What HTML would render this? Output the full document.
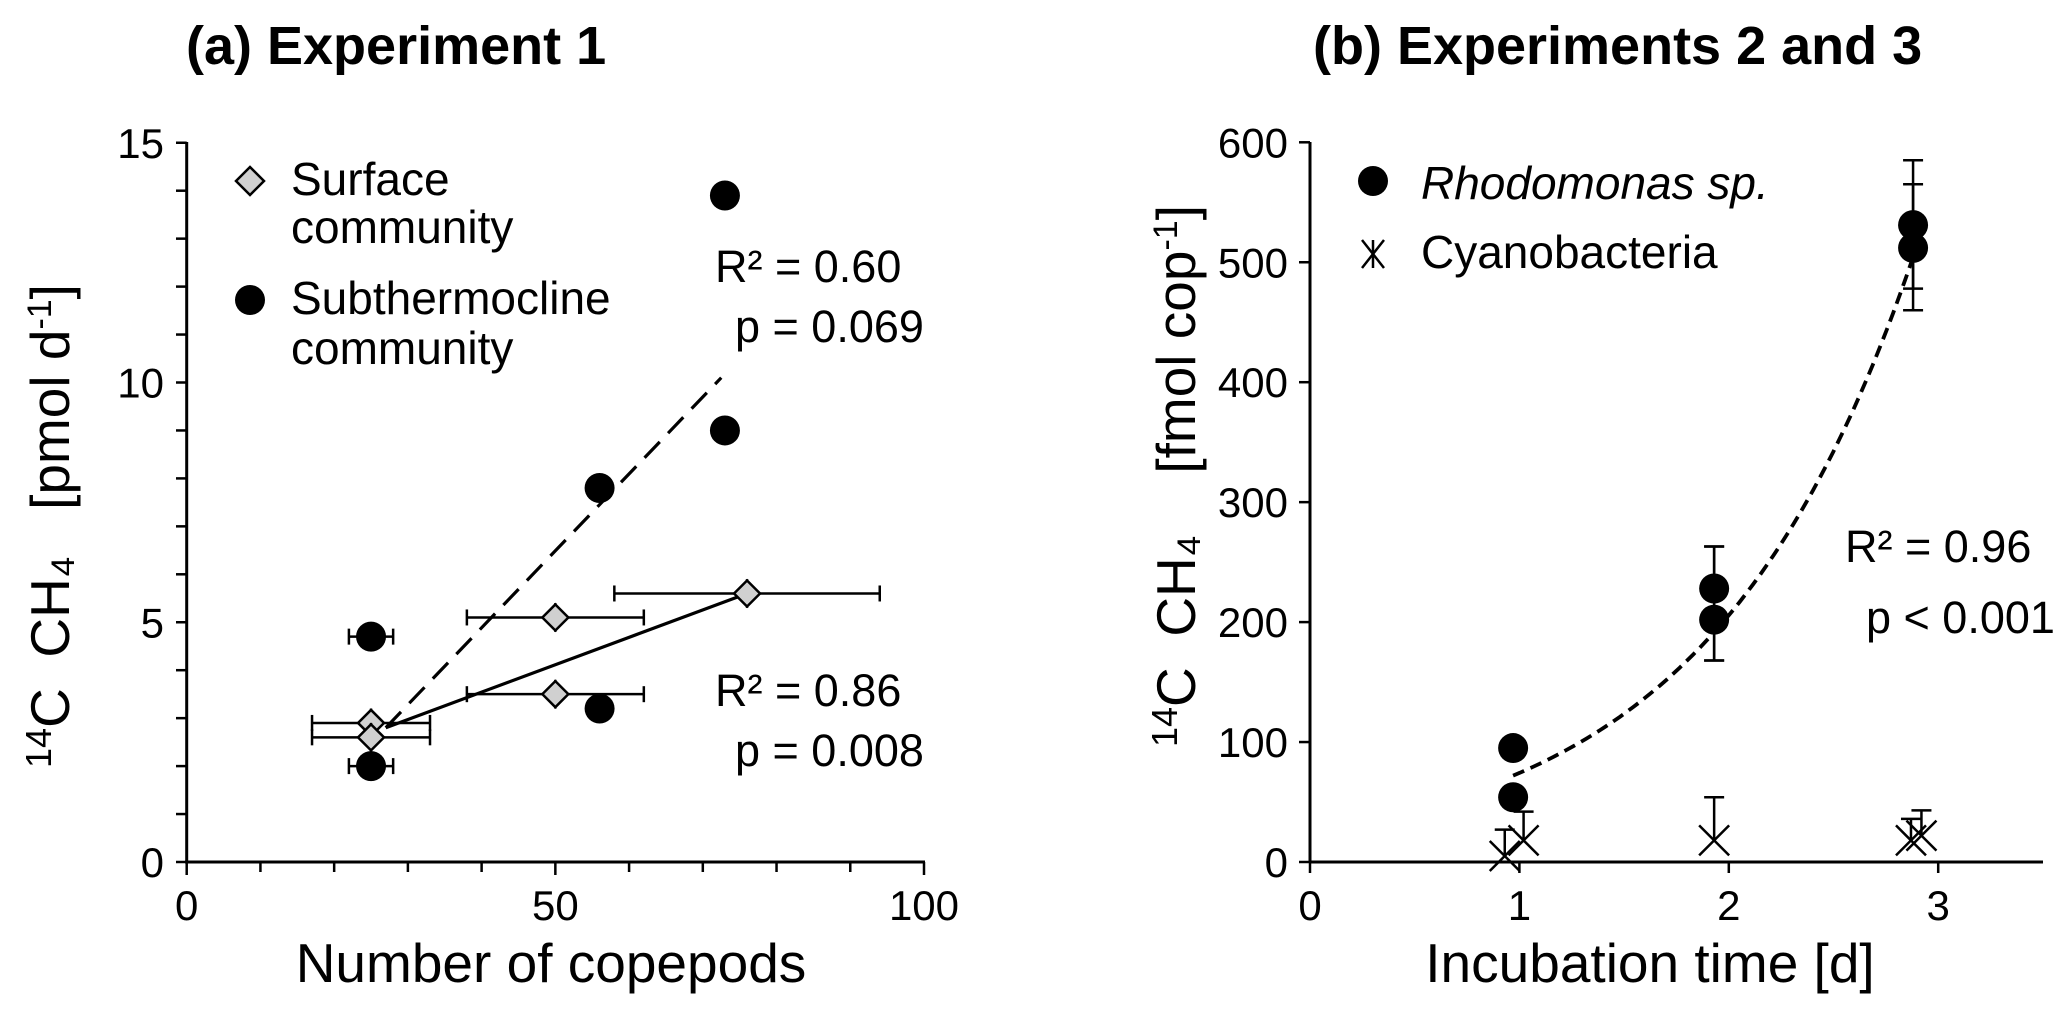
<!DOCTYPE html>
<html><head><meta charset="utf-8"><style>
body{margin:0;background:#fff}
svg{display:block;font-family:"Liberation Sans",Arial,sans-serif}
svg text{white-space:pre}
</style></head><body>
<svg id="chart" width="2067" height="1016" viewBox="0 0 2067 1016">
<text x="186" y="64" font-size="54" font-weight="bold">(a) Experiment 1</text>
<text x="1313" y="64" font-size="54" font-weight="bold">(b) Experiments 2 and 3</text>
<g id="pa"></g>
<g id="pb"></g>
</svg>
<script>
const aSubX=[25,25,56,56,73,73];
const aSubY=[4.7,2.0,7.8,3.2,13.9,9.0];
const aSubXerr=[3,3,0,0,0,0];
const aSurX=[25,25,50,50,76];
const aSurY=[2.9,2.6,5.1,3.5,5.6];
const aSurXerr=[8,8,12,12,18];
const aSurYerr=[0.3,0.3,0.3,0.3,0.3];
const aSolid=[[27,2.8],[76,5.6]];
const aDashed=[[27,2.8],[72.5,10.1]];
const aXTicks=[0,50,100];
const aYTicks=[0,5,10,15];
const bRhoX=[0.97,0.97,1.93,1.93,2.88,2.88];
const bRhoY=[95,54,228,202,531,512];
const bErrX=[1.93,1.93,2.88,2.88];
const bErrLo=[168,168,460,478];
const bErrHi=[263,263,585,565];
const bCyaX=[0.93,1.02,1.93,2.87,2.92];
const bCyaY=[5,18,18,18,22];
const bCyaHi=[27,42,54,36,43];
const bFitA=26.8, bFitB=1.019;
const bXTicks=[0,1,2,3];
const bYTicks=[0,100,200,300,400,500,600];
const NS="http://www.w3.org/2000/svg";
function mk(p,t,at,txt){const e=document.createElementNS(NS,t);for(const k in at)e.setAttribute(k,at[k]);if(txt!==undefined)e.textContent=txt;p.appendChild(e);return e;}
const ax=v=>186.7+v*7.373, ay=v=>862-v*47.95;
const pa=document.getElementById('pa');
let e;
e=mk(pa,'line',{x1:186.7,y1:142,x2:186.7,y2:863,stroke:'#000','stroke-width':3});

e=mk(pa,'line',{x1:185,y1:862,x2:925,y2:862,stroke:'#000','stroke-width':3});

for(let v=0;v<=15;v++){e=mk(pa,'line',{x1:186.7,y1:ay(v),x2:176,y2:ay(v),stroke:'#000','stroke-width':2.5});
}
for(let v=0;v<=100;v+=10){e=mk(pa,'line',{x1:ax(v),y1:862,x2:ax(v),y2:(v%50?872:875),stroke:'#000','stroke-width':2.5});
}
aYTicks.forEach(v=>{e=mk(pa,'text',{x:164,y:ay(v)+15,'font-size':42,'text-anchor':'end'},String(v));
});
aXTicks.forEach(v=>{e=mk(pa,'text',{x:ax(v),y:920,'font-size':42,'text-anchor':'middle'},String(v));
});
e=mk(pa,'text',{x:551,y:982,'font-size':55,'text-anchor':'middle'},'Number of copepods');

e=mk(pa,'text',{transform:'translate(69,526) rotate(-90)','font-size':55,'text-anchor':'middle'});
e.innerHTML='<tspan font-size="36" dy="-18">14</tspan><tspan dy="18">C  CH₄   [pmol d</tspan><tspan font-size="34" dy="-18">-1</tspan><tspan dy="18">]</tspan>';

e=mk(pa,'line',{x1:ax(aSolid[0][0]),y1:ay(aSolid[0][1]),x2:ax(aSolid[1][0]),y2:ay(aSolid[1][1]),stroke:'#000','stroke-width':3.2});

e=mk(pa,'line',{x1:ax(aDashed[0][0]),y1:ay(aDashed[0][1]),x2:ax(aDashed[1][0]),y2:ay(aDashed[1][1]),stroke:'#000','stroke-width':3.2,'stroke-dasharray':'22 12'});

function herr(p,x,y,d){const l=ax(x-d),r=ax(x+d),yy=ay(y);
mk(p,'line',{x1:l,y1:yy,x2:r,y2:yy,stroke:'#000','stroke-width':2.5});
mk(p,'line',{x1:l,y1:yy-8,x2:l,y2:yy+8,stroke:'#000','stroke-width':2.5});
mk(p,'line',{x1:r,y1:yy-8,x2:r,y2:yy+8,stroke:'#000','stroke-width':2.5});}
aSurX.forEach((x,i)=>{const g=mk(pa,'g',{});

herr(g,x,aSurY[i],aSurXerr[i]);
const cx=ax(x),y1=ay(aSurY[i]-aSurYerr[i]),y2=ay(aSurY[i]+aSurYerr[i]);
mk(g,'line',{x1:cx,y1:y1,x2:cx,y2:y2,stroke:'#000','stroke-width':2.5});
const cy=ay(aSurY[i]),s=13;
mk(g,'polygon',{points:`${cx},${cy-s} ${cx+s},${cy} ${cx},${cy+s} ${cx-s},${cy}`,fill:'#d0d0d0',stroke:'#000','stroke-width':2.5});});
aSubX.forEach((x,i)=>{const g=mk(pa,'g',{});

if(aSubXerr[i])herr(g,x,aSubY[i],aSubXerr[i]);
mk(g,'circle',{cx:ax(x),cy:ay(aSubY[i]),r:15,fill:'#000'});});
e=mk(pa,'polygon',{points:'250,167 264,181 250,195 236,181',fill:'#d0d0d0',stroke:'#000','stroke-width':2.5});

e=mk(pa,'text',{x:291,y:195,'font-size':46},'Surface');
e=mk(pa,'text',{x:291,y:243,'font-size':46},'community');
e=mk(pa,'circle',{cx:250,cy:300,r:15,fill:'#000'});
e=mk(pa,'text',{x:291,y:314,'font-size':46},'Subthermocline');
e=mk(pa,'text',{x:291,y:364,'font-size':46},'community');
e=mk(pa,'text',{x:715,y:282,'font-size':45},'R² = 0.60');
e=mk(pa,'text',{x:735,y:342,'font-size':45},'p = 0.069');
e=mk(pa,'text',{x:715,y:706,'font-size':45},'R² = 0.86');
e=mk(pa,'text',{x:735,y:766,'font-size':45},'p = 0.008');
const bx=v=>1310+v*209.4, by=v=>862-v*1.1995;
const pb=document.getElementById('pb');
e=mk(pb,'line',{x1:1310,y1:142,x2:1310,y2:863,stroke:'#000','stroke-width':3});
e=mk(pb,'line',{x1:1309,y1:862,x2:2043,y2:862,stroke:'#000','stroke-width':3});
bYTicks.forEach(v=>{e=mk(pb,'line',{x1:1310,y1:by(v),x2:1299,y2:by(v),stroke:'#000','stroke-width':2.5});

e=mk(pb,'text',{x:1288,y:by(v)+15,'font-size':42,'text-anchor':'end'},String(v));
});
bXTicks.forEach(v=>{e=mk(pb,'line',{x1:bx(v),y1:862,x2:bx(v),y2:873,stroke:'#000','stroke-width':2.5});

e=mk(pb,'text',{x:bx(v),y:920,'font-size':42,'text-anchor':'middle'},String(v));
});
e=mk(pb,'text',{x:1650,y:982,'font-size':55,'text-anchor':'middle'},'Incubation time [d]');

e=mk(pb,'text',{transform:'translate(1195,476) rotate(-90)','font-size':55,'text-anchor':'middle'});
e.innerHTML='<tspan font-size="36" dy="-18">14</tspan><tspan dy="18">C  CH₄    [fmol cop</tspan><tspan font-size="34" dy="-18">-1</tspan><tspan dy="18">]</tspan>';

let d='';for(let i=0;i<=60;i++){const x=0.97+(2.88-0.97)*i/60;d+=(i?'L':'M')+bx(x).toFixed(1)+','+by(bFitA*Math.exp(bFitB*x)).toFixed(1);}
e=mk(pb,'path',{d:d,fill:'none',stroke:'#000','stroke-width':3.8,'stroke-dasharray':'12 7'});

function verr(p,x,lo,hi){const cx=bx(x);mk(p,'line',{x1:cx,y1:by(lo),x2:cx,y2:by(hi),stroke:'#000','stroke-width':2.5});
[lo,hi].forEach(v=>mk(p,'line',{x1:cx-10,y1:by(v),x2:cx+10,y2:by(v),stroke:'#000','stroke-width':2.5}));}
bErrX.forEach((x,i)=>{const g=mk(pb,'g',{});verr(g,x,bErrLo[i],bErrHi[i]);});
bRhoX.forEach((x,i)=>{e=mk(pb,'circle',{cx:bx(x),cy:by(bRhoY[i]),r:15,fill:'#000'});
});
bCyaX.forEach((x,i)=>{const g=mk(pb,'g',{});
const cx=bx(x);mk(g,'line',{x1:cx,y1:by(bCyaY[i]),x2:cx,y2:by(bCyaHi[i]),stroke:'#000','stroke-width':2.5});
mk(g,'line',{x1:cx-10,y1:by(bCyaHi[i]),x2:cx+10,y2:by(bCyaHi[i]),stroke:'#000','stroke-width':2.5});
const cy=by(bCyaY[i]),s=15;
mk(g,'line',{x1:cx-s,y1:cy-s,x2:cx+s,y2:cy+s,stroke:'#000','stroke-width':2.5});
mk(g,'line',{x1:cx-s,y1:cy+s,x2:cx+s,y2:cy-s,stroke:'#000','stroke-width':2.5});});
e=mk(pb,'circle',{cx:1373,cy:181,r:15,fill:'#000'});
e=mk(pb,'text',{x:1421,y:199,'font-size':46,'font-style':'italic'},'Rhodomonas sp.');
e=mk(pb,'g',{});
mk(e,'line',{x1:1362,y1:240,x2:1384,y2:268,stroke:'#000','stroke-width':2.5});mk(e,'line',{x1:1362,y1:268,x2:1384,y2:240,stroke:'#000','stroke-width':2.5});mk(e,'line',{x1:1373,y1:240,x2:1373,y2:268,stroke:'#000','stroke-width':2.5});
e=mk(pb,'text',{x:1421,y:268,'font-size':46},'Cyanobacteria');
e=mk(pb,'text',{x:1845,y:562,'font-size':45},'R² = 0.96');
e=mk(pb,'text',{x:1866,y:633,'font-size':45},'p < 0.001');
</script>
</body></html>
